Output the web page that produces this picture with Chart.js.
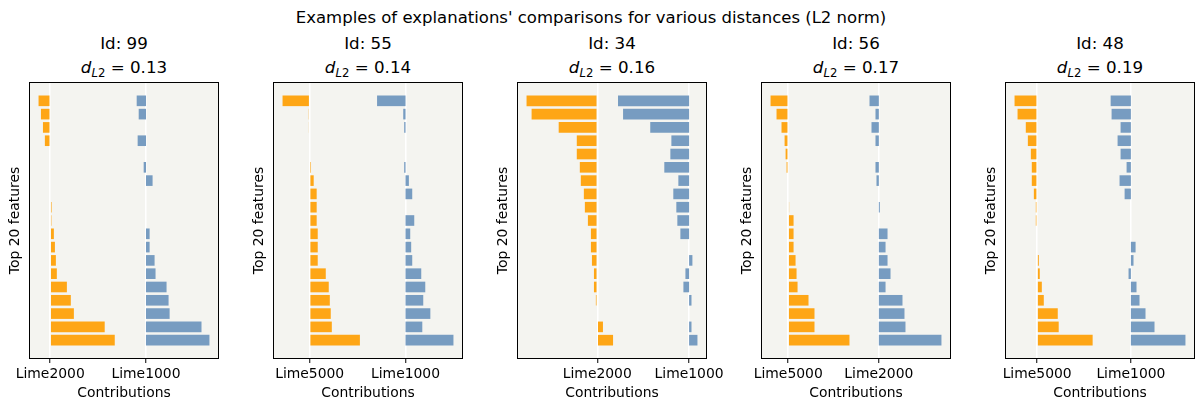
<!DOCTYPE html>
<html>
<head>
<meta charset="utf-8">
<script src="https://cdn.jsdelivr.net/npm/chart.js@4/dist/chart.umd.min.js"></script>
<style>
body{margin:0;background:#fff;width:1202px;height:411px;position:relative;overflow:hidden;font-family:"DejaVu Sans",sans-serif;color:#000;}
.sup{position:absolute;top:6px;left:-10px;width:1202px;text-align:center;font-size:16.5px;line-height:24px;}
.ttl{position:absolute;top:31px;width:188px;text-align:center;font-size:16.7px;line-height:24px;}
.ttl sub{font-size:0.7em;vertical-align:-0.3em;line-height:0;}
canvas{position:absolute;top:76px;}
</style>
</head>
<body>
<div class="sup">Examples of explanations' comparisons for various distances (L2 norm)</div>
<script>
// panels, left to right
const panelIds = [99, 55, 34, 56, 48];
const distances = ['0.13', '0.14', '0.16', '0.17', '0.19'];
const orangeLabels = ['Lime2000', 'Lime5000', 'Lime2000', 'Lime5000', 'Lime5000'];
const blueLabels = ['Lime1000', 'Lime1000', 'Lime1000', 'Lime2000', 'Lime1000'];

// contributions of the top 20 features, rows listed top to bottom
const orange99 = [-0.122, -0.097, -0.076, -0.056, 0, 0, 0, 0, 0.014, 0.012, 0.038, 0.049, 0.059, 0.069, 0.174, 0.215, 0.247, 0.569, 0.674];
const blue99   = [-0.097, -0.076, 0, -0.087, 0, -0.024, 0.069, 0, 0, 0, 0.038, 0.038, 0.090, 0.100, 0.215, 0.236, 0.247, 0.580, 0.663];
const orange55 = [-0.283, -0.010, -0.007, 0, 0, 0.014, 0.042, 0.073, 0.073, 0.073, 0.084, 0.084, 0.084, 0.168, 0.199, 0.210, 0.220, 0.231, 0.524];
const blue55   = [-0.297, -0.024, -0.014, 0, 0, -0.014, 0.035, 0.070, 0, 0.091, 0.049, 0.059, 0.070, 0.164, 0.206, 0.185, 0.259, 0.175, 0.500];
const orange34 = [-0.770, -0.715, -0.420, -0.223, -0.223, -0.190, -0.179, -0.146, -0.135, -0.102, -0.069, -0.069, -0.058, -0.036, -0.036, -0.015, 0, 0.062, 0.172];
const blue34   = [-0.774, -0.719, -0.423, -0.193, -0.204, -0.270, -0.117, -0.172, -0.139, -0.128, -0.095, 0, 0.036, -0.040, -0.062, 0.026, 0, 0.026, 0.091];
const orange56 = [-0.195, -0.129, -0.074, -0.040, -0.029, -0.018, 0, 0, 0.010, 0.059, 0.059, 0.059, 0.081, 0.092, 0.103, 0.224, 0.290, 0.290, 0.676];
const blue56   = [-0.103, -0.037, -0.081, -0.037, 0, -0.037, -0.026, 0, 0.011, 0, 0.096, 0.074, 0.096, 0.129, 0.074, 0.261, 0.283, 0.294, 0.691];
const orange48 = [-0.241, -0.209, -0.121, -0.099, -0.067, -0.057, -0.057, -0.035, -0.014, -0.014, 0, 0, 0.018, 0.028, 0.050, 0.071, 0.220, 0.230, 0.592];
const blue48   = [-0.216, -0.206, -0.110, -0.142, -0.110, -0.046, -0.121, -0.067, 0, 0, 0, 0.050, 0.028, -0.025, 0.060, 0.092, 0.156, 0.252, 0.582];

const orangeSeries = [orange99, orange55, orange34, orange56, orange48];
const blueSeries = [blue99, blue55, blue34, blue56, blue48];

const ORANGE = '#fea616';
const BLUE = '#779cc1';
const BG = '#f4f4f0';
const FONT = 'DejaVu Sans';

const axLeft0 = 30, axStep = 244, axWidth = 188;
const padRight = 24; // room for a tick label hanging past the box

// grey plot area + black box round it
const frame = {
    id:'frame',
    beforeDraw(c){
        const a = c.chartArea, g = c.ctx;
        g.save();
        g.fillStyle = BG;
        g.fillRect(a.left, a.top, a.right - a.left, a.bottom - a.top);
        g.restore();
    },
    afterDraw(c){
        const a = c.chartArea, g = c.ctx;
        g.save();
        g.strokeStyle = '#000';
        g.lineWidth = 1;
        g.strokeRect(Math.round(a.left) - 0.5, Math.round(a.top) - 0.5, Math.round(a.right - a.left) + 1, Math.round(a.bottom - a.top) + 1);
        g.restore();
    }
};

function buildPanel(i){
    const orange = orangeSeries[i], blue = blueSeries[i];
    const left = axLeft0 + i * axStep;

    const ttl = document.createElement('div');
    ttl.className = 'ttl';
    ttl.style.left = left + 'px';
    ttl.innerHTML = 'Id: ' + panelIds[i] + '<br><i>d</i><sub><i>L</i>2</sub> = ' + distances[i];
    document.body.appendChild(ttl);

    const canvas = document.createElement('canvas');
    canvas.width = 30 + axWidth + padRight;
    canvas.height = 335;
    canvas.style.left = (left - 30) + 'px';
    document.body.appendChild(canvas);

    // x limits: data extent with 5% margins
    const ends = orange.concat(blue.map(v => 1 + v), [0, 1]);
    const lo = Math.min(...ends), hi = Math.max(...ends), pad = (hi - lo) * 0.05;
    const rows = orange.length;

    new Chart(canvas, {
        type:'bar',
        data:{
            datasets:[
                {data: orange.map((v, r) => ({x:[0, v], y:r})), backgroundColor: ORANGE},
                {data: blue.map((v, r) => ({x:[1, 1 + v], y:r})), backgroundColor: BLUE}
            ]
        },
        options:{
            indexAxis:'y',
            responsive:false,
            animation:false,
            devicePixelRatio:1,
            layout:{padding:{top:7, right:padRight, bottom:0, left:0}},
            datasets:{bar:{grouped:false, barPercentage:0.8, categoryPercentage:1, borderWidth:0}},
            plugins:{legend:{display:false}, tooltip:{enabled:false}},
            scales:{
                x:{
                    type:'linear', bounds:'data', min:lo - pad, max:hi + pad, z:1, offset:false,
                    afterBuildTicks: s => { s.ticks = [{value:0}, {value:1}]; },
                    afterFit: s => { s.height = 53; s.paddingLeft = 0; s.paddingRight = 0; },
                    grid:{color:'#fff', lineWidth:1.5, tickColor:'#000', tickLength:5, tickWidth:1},
                    border:{display:false},
                    ticks:{color:'#000', font:{family:FONT, size:13.9}, padding:3, maxRotation:0, autoSkip:false,
                        callback:(v, k) => k === 0 ? orangeLabels[i] : blueLabels[i]},
                    title:{display:true, text:'Contributions', color:'#000', font:{family:FONT, size:13.9}, padding:{top:0, bottom:9}}
                },
                y:{
                    type:'linear', bounds:'data', reverse:true, offset:false, min:-1.34, max:rows - 1 + 1.34,
                    afterBuildTicks: s => { s.ticks = orange.map((v, r) => ({value:r})); },
                    afterFit: s => { s.width = 30; s.paddingTop = 0; s.paddingBottom = 0; },
                    grid:{display:false, offset:false},
                    border:{display:false},
                    ticks:{display:false},
                    title:{display:true, text:'Top 20 features', color:'#000', font:{family:FONT, size:13.9}, padding:{top:7, bottom:0}}
                }
            }
        },
        plugins:[frame]
    });
}

for(let i = 0; i < panelIds.length; i++){
    buildPanel(i);
}
</script>
</body>
</html>
